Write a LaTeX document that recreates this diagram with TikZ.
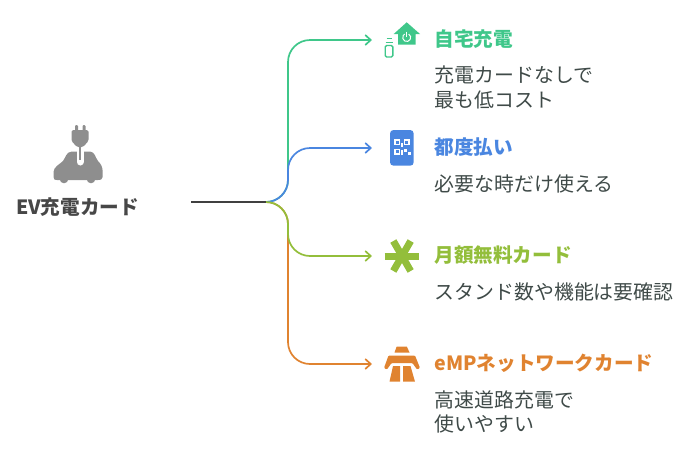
\documentclass[tikz,border=0pt]{standalone}
\usepackage{fontspec}
\setmainfont{Noto Sans CJK JP}
\usepackage{xcolor}
\usetikzlibrary{arrows.meta}
\definecolor{homegreen}{HTML}{3FC78A}
\definecolor{payblue}{HTML}{4A86E0}
\definecolor{cardlime}{HTML}{93BE3B}
\definecolor{roadorange}{HTML}{E08330}
\definecolor{cargray}{HTML}{8E8E8E}
\definecolor{bodytext}{HTML}{3F4A48}
\tikzset{
  branch/.style={line width=1.7pt,rounded corners=22pt,-{Straight Barb[length=5.5pt,width=10pt]}},
  heading/.style={anchor=west,inner sep=0pt,font=\bfseries\fontsize{19.6}{24}\selectfont},
  detail/.style={anchor=north west,inner sep=0pt,align=left,text=bodytext,font=\fontsize{19.9}{24.5}\selectfont},
}
\begin{document}
\begin{tikzpicture}[x=1pt,y=-1pt]
\useasboundingbox (0,0) rectangle (696,448);

% Ramos
\coordinate (trunkstart) at (191,202);
\coordinate (hub) at (266,202);
\coordinate (bend) at (288,202);
\coordinate (endhome) at (372,40);
\coordinate (endpay) at (372,148);
\coordinate (endcard) at (372,256);
\coordinate (endroad) at (372,364);

\draw[branch,homegreen] (hub) -- (bend) |- (endhome);
\draw[branch,roadorange] (hub) -- (bend) |- (endroad);
\draw[branch,payblue] (hub) -- (bend) |- (endpay);
\draw[branch,cardlime] (hub) -- (bend) |- (endcard);
\draw[line width=1.7pt,black!75] (trunkstart) -- (hub);

% Carro com plugue
\fill[cargray] (53.5,172) .. controls (53.5,167) and (60,164) .. (63,161) .. controls (66,157) and (66,152) .. (72,151.5) -- (90,151.5) .. controls (95,152) and (95,157) .. (98,161) .. controls (101,164) and (102.7,167) .. (102.7,172) -- (102.7,177) .. controls (102.7,180) and (100,180) .. (98,180) -- (57,180) .. controls (55,180) and (53.5,180) .. (53.5,177) -- cycle;
\fill[cargray] (64,179) circle (4.3);
\fill[cargray] (91,179) circle (4.3);
\draw[white,line width=7pt,line cap=round] (80,146) -- (80,162);
\draw[cargray,line width=2.5pt] (80,146) -- (80,160);
\fill[cargray,rounded corners=1.5pt] (71.5,130) -- (88.5,130) -- (88.5,141) -- (83,147) -- (77,147) -- (71.5,141) -- cycle;
\fill[cargray,rounded corners=1pt] (75,125) rectangle (78,132);
\fill[cargray,rounded corners=1pt] (82.5,125) rectangle (85.5,132);
\node[anchor=center,inner sep=0pt,text=black!72,font=\bfseries\fontsize{19.6}{24}\selectfont] (evtitle) at (77.5,207.5) {EV充電カード};

% Casa e sensor
\fill[homegreen] (406.7,22.3) -- (420,34) -- (415.5,34) -- (415.5,44.5) -- (398,44.5) -- (398,34) -- (393.7,34) -- cycle;
\draw[white,line width=1pt] (406.7,37.5) ++(-60:4) arc[start angle=-60,end angle=240,radius=4];
\draw[white,line width=1pt] (406.7,31.5) -- (406.7,37);
\draw[homegreen,line width=1.4pt,rounded corners=1.5pt] (385.2,45.5) rectangle (392.8,57);
\draw[homegreen,line width=1.3pt] (385.5,42.5) -- (392.5,42.5);
\draw[homegreen,line width=1.3pt] (386.5,38.8) -- (391.5,38.8);
\node[heading,text=homegreen] (hometitle) at (434.3,39.5) {自宅充電};
\node[detail] (homedetail) at (434.5,66) {充電カードなしで\\最も低コスト};

% Celular com QR
\fill[payblue,rounded corners=3.5pt] (390,130) rectangle (413.7,165.7);
\foreach \qx/\qy in {395/140,404.5/140,395/149.5}
  \draw[white,line width=1.1pt] (\qx,\qy) rectangle ++(4.5,4.5);
\fill[white] (404,149) rectangle (407,152);
\fill[white] (408,152) rectangle (410.5,155);
\fill[white] (401,143) rectangle (403,147);
\fill[white] (401,150) rectangle (403,155);
\node[heading,text=payblue] (paytitle) at (434.3,147.5) {都度払い};
\node[detail] (paydetail) at (434.5,174.5) {必要な時だけ使える};

% Asterisco
\foreach \armangle in {0,60,120}
  \draw[cardlime,line width=7pt] (402,256) ++(\armangle:-17.3) -- ++(\armangle:34.6);
\node[heading,text=cardlime] (cardtitle) at (434.3,255.5) {月額無料カード};
\node[detail] (carddetail) at (434.5,282.5) {スタンド数や機能は要確認};

% Estrada
\fill[roadorange] (396.7,346.5) -- (406.8,346.5) -- (409.5,352.5) -- (394.5,352.5) -- cycle;
\fill[roadorange,rounded corners=1pt] (388.5,355.5) -- (415,355.5) -- (420,368) -- (417,369.5) -- (412.5,363) -- (391.5,363) -- (387,369.5) -- (384,368) -- cycle;
\fill[roadorange] (393,366) -- (400,366) -- (400,381.7) -- (389.5,381.7) -- cycle;
\fill[roadorange] (403,366) -- (410.5,366) -- (415,381.7) -- (403,381.7) -- cycle;
\node[heading,text=roadorange] (roadtitle) at (434.3,363) {eMPネットワークカード};
\node[detail] (roaddetail) at (434.5,390.5) {高速道路充電で\\使いやすい};

\end{tikzpicture}
\end{document}
